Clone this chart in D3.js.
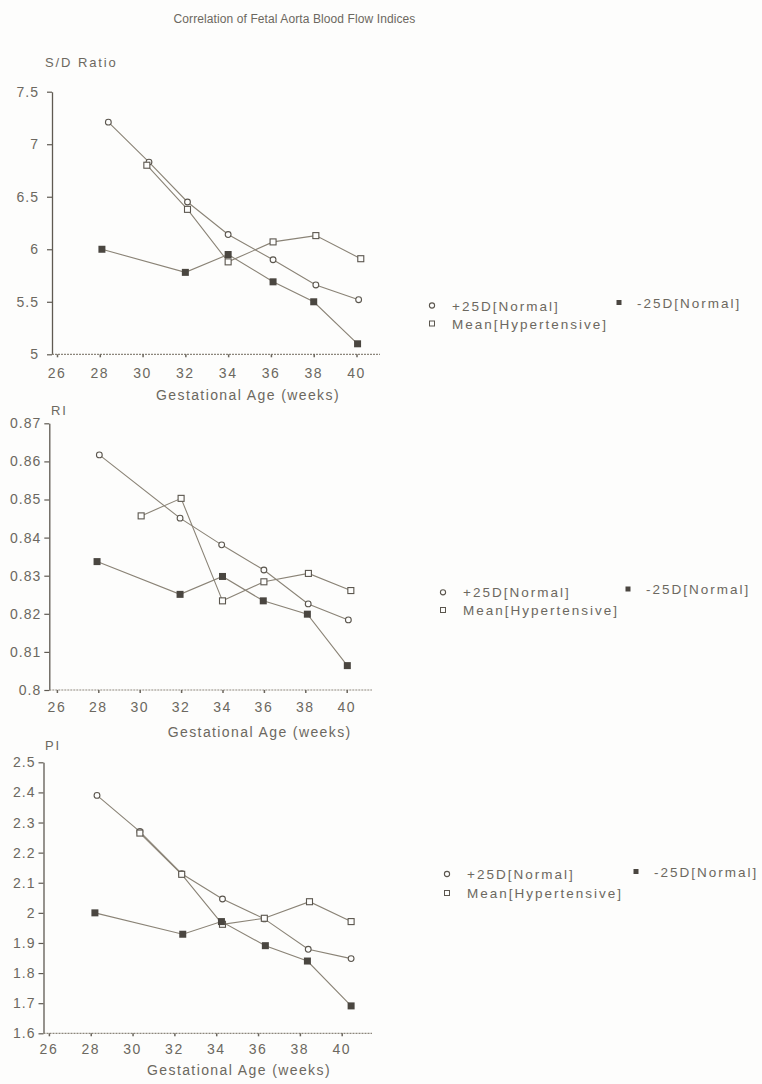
<!DOCTYPE html>
<html>
<head>
<meta charset="utf-8">
<script src="https://cdn.jsdelivr.net/npm/d3@7"></script>
<style>
  html, body { margin: 0; padding: 0; background: #fdfdfc; }
  svg { display: block; }
  text { font-family: "Liberation Sans", Arial, sans-serif; fill: #6c6860; }
</style>
</head>
<body>
<svg id="chart" width="762" height="1084"></svg>
<script>
// ---------------- data ----------------
const chartTitle = "Correlation of Fetal Aorta Blood Flow Indices";
const xAxisTitle = "Gestational Age (weeks)";
const seriesNames = ["+25D[Normal]", "-25D[Normal]", "Mean[Hypertensive]"];
const xTickValues = [26, 28, 30, 32, 34, 36, 38, 40];

// S/D Ratio panel
const sdTicks = [5, 5.5, 6, 6.5, 7, 7.5];
const sdPlusWeeks = [28.4, 30.3, 32.1, 34.0, 36.1, 38.1, 40.1];
const sdPlus = [7.21, 6.83, 6.45, 6.14, 5.90, 5.66, 5.52];
const sdMinusWeeks = [28.1, 32.0, 34.0, 36.1, 38.0, 40.05];
const sdMinus = [6.00, 5.78, 5.95, 5.69, 5.50, 5.10];
const sdMeanWeeks = [30.2, 32.1, 34.0, 36.1, 38.1, 40.2];
const sdMean = [6.80, 6.38, 5.88, 6.07, 6.13, 5.91];

// RI panel
const riTicks = [0.8, 0.81, 0.82, 0.83, 0.84, 0.85, 0.86, 0.87];
const riPlusWeeks = [28.05, 31.95, 33.96, 36.0, 38.14, 40.08];
const riPlus = [0.8617, 0.8451, 0.8381, 0.8315, 0.8226, 0.8184];
const riMinusWeeks = [27.94, 31.95, 34.0, 35.97, 38.1, 40.03];
const riMinus = [0.8337, 0.8251, 0.8298, 0.8234, 0.8199, 0.8064];
const riMeanWeeks = [30.07, 32.0, 34.0, 36.0, 38.15, 40.2];
const riMean = [0.8457, 0.8503, 0.8234, 0.8284, 0.8306, 0.8261];

// PI panel
const piTicks = [1.6, 1.7, 1.8, 1.9, 2.0, 2.1, 2.2, 2.3, 2.4, 2.5];
const piPlusWeeks = [28.3, 30.35, 32.35, 34.3, 36.3, 38.4, 40.45];
const piPlus = [2.39, 2.27, 2.13, 2.046, 1.98, 1.879, 1.848];
const piMinusWeeks = [28.2, 32.4, 34.25, 36.35, 38.36, 40.45];
const piMinus = [2.00, 1.929, 1.971, 1.891, 1.840, 1.691];
const piMeanWeeks = [30.35, 32.35, 34.3, 36.3, 38.46, 40.45];
const piMean = [2.265, 2.128, 1.962, 1.982, 2.037, 1.971];

// ---------------- layout ----------------
const panels = [
  { label: "S/D Ratio", labelX: 45, labelY: 67,
    ticks: sdTicks, yDomain: [5, 7.5], yRange: [354.3, 91.7],
    xRange: [57, 356.5], axisX: 52, axisRight: 380, yPad: 8,
    tickY: 377.5, titleX: 248, titleY: 400,
    plus: [sdPlusWeeks, sdPlus], minus: [sdMinusWeeks, sdMinus], mean: [sdMeanWeeks, sdMean],
    legend: { x: 432, y1: 305.5, x2: 619, y2: 302.5, y3: 323.5 } },
  { label: "RI", labelX: 51, labelY: 415,
    ticks: riTicks, yDomain: [0.8, 0.87], yRange: [690, 423.3],
    xRange: [56.9, 346.7], axisX: 49.3, axisRight: 372, yPad: 3,
    tickY: 712, titleX: 259.7, titleY: 737,
    plus: [riPlusWeeks, riPlus], minus: [riMinusWeeks, riMinus], mean: [riMeanWeeks, riMean],
    legend: { x: 443, y1: 592.3, x2: 628, y2: 589, y3: 610 } },
  { label: "PI", labelX: 45, labelY: 749.5,
    ticks: piTicks, yDomain: [1.6, 2.5], yRange: [1033.3, 762.3],
    xRange: [48.9, 341.7], axisX: 43.5, axisRight: 372, yPad: 3,
    tickY: 1054, titleX: 239, titleY: 1075,
    plus: [piPlusWeeks, piPlus], minus: [piMinusWeeks, piMinus], mean: [piMeanWeeks, piMean],
    legend: { x: 447, y1: 874, x2: 636, y2: 871.5, y3: 893 } }
];

const lineColor = "#8a8376";
const markColor = "#5b564e";
const fillColor = "#4a4640";

const svg = d3.select("#chart");

svg.append("text")
  .attr("x", 294.5).attr("y", 22.5)
  .attr("text-anchor", "middle")
  .style("font-size", "12px")
  .style("letter-spacing", "0.1px")
  .text(chartTitle);

function zip(a, b) { return a.map((d, i) => ({ x: d, y: b[i] })); }

panels.forEach(p => {
  const g = svg.append("g");
  const x = d3.scaleLinear().domain([26, 40]).range(p.xRange);
  const y = d3.scaleLinear().domain(p.yDomain).range(p.yRange);
  const y0 = p.yRange[0];

  // y axis
  const yAxis = d3.axisLeft(y).tickValues(p.ticks)
    .tickFormat(d => String(+d.toFixed(2)))
    .tickSize(5).tickSizeOuter(0).tickPadding(p.yPad);
  const gy = g.append("g").attr("transform", `translate(${p.axisX},0)`).call(yAxis);
  gy.select(".domain").attr("stroke", "#5f5a52").attr("stroke-width", 1.3);
  gy.selectAll(".tick line").attr("stroke", "#5f5a52").attr("stroke-width", 1.2);
  gy.selectAll(".tick text")
    .style("font-size", "14px").style("letter-spacing", "1px")
    .style("font-family", "'Liberation Sans', Arial, sans-serif")
    .attr("fill", "#6c6860");

  // x axis (dotted baseline)
  g.append("line")
    .attr("x1", p.axisX).attr("x2", p.axisRight)
    .attr("y1", y0).attr("y2", y0)
    .attr("stroke", "#8d877c").attr("stroke-width", 1.2)
    .attr("stroke-dasharray", "2,1");
  const xAxis = d3.axisBottom(x).tickValues(xTickValues).tickSize(3).tickSizeOuter(0).tickFormat("");
  const gx = g.append("g").attr("transform", `translate(0,${y0})`).call(xAxis);
  gx.select(".domain").remove();
  gx.selectAll(".tick line").attr("stroke", "#6a655c").attr("stroke-width", 1.5);

  g.selectAll("text.xt").data(xTickValues).join("text")
    .attr("class", "xt")
    .attr("x", d => x(d)).attr("y", p.tickY)
    .attr("text-anchor", "middle")
    .style("font-size", "14px").style("letter-spacing", "1.5px")
    .text(d => d);

  g.append("text")
    .attr("x", p.titleX).attr("y", p.titleY)
    .attr("text-anchor", "middle")
    .style("font-size", "14px").style("letter-spacing", "1.4px")
    .text(xAxisTitle);

  g.append("text")
    .attr("x", p.labelX).attr("y", p.labelY)
    .style("font-size", "13px").style("letter-spacing", "1.9px")
    .text(p.label);

  const line = d3.line().x(d => x(d.x)).y(d => y(d.y));
  const plus = zip(p.plus[0], p.plus[1]);
  const minus = zip(p.minus[0], p.minus[1]);
  const mean = zip(p.mean[0], p.mean[1]);

  [plus, minus, mean].forEach(s => {
    g.append("path").datum(s)
      .attr("d", line)
      .attr("fill", "none")
      .attr("stroke", lineColor)
      .attr("stroke-width", 1.1);
  });

  // markers
  g.selectAll("circle.plus").data(plus).join("circle")
    .attr("class", "plus")
    .attr("cx", d => x(d.x)).attr("cy", d => y(d.y)).attr("r", 2.9)
    .attr("fill", "#fdfdfc").attr("stroke", markColor).attr("stroke-width", 1.1);
  g.selectAll("rect.mean").data(mean).join("rect")
    .attr("class", "mean")
    .attr("x", d => x(d.x) - 3).attr("y", d => y(d.y) - 3)
    .attr("width", 6).attr("height", 6)
    .attr("fill", "#fdfdfc").attr("stroke", markColor).attr("stroke-width", 1.1);
  g.selectAll("rect.minus").data(minus).join("rect")
    .attr("class", "minus")
    .attr("x", d => x(d.x) - 3.5).attr("y", d => y(d.y) - 3.5)
    .attr("width", 7).attr("height", 7)
    .attr("fill", fillColor);

  // legend
  const L = p.legend;
  const lg = svg.append("g");
  lg.append("circle").attr("cx", L.x).attr("cy", L.y1).attr("r", 2.6)
    .attr("fill", "#fdfdfc").attr("stroke", markColor).attr("stroke-width", 1.1);
  lg.append("text").attr("x", L.x + 20).attr("y", L.y1 + 5)
    .style("font-size", "13.5px").style("letter-spacing", "2px").text(seriesNames[0]);
  lg.append("rect").attr("x", L.x2 - 2.5).attr("y", L.y2 - 2.5).attr("width", 5).attr("height", 5)
    .attr("fill", fillColor);
  lg.append("text").attr("x", L.x2 + 18).attr("y", L.y2 + 5)
    .style("font-size", "13.5px").style("letter-spacing", "2px").text(seriesNames[1]);
  lg.append("rect").attr("x", L.x - 2.5).attr("y", L.y3 - 2.5).attr("width", 5).attr("height", 5)
    .attr("fill", "#fdfdfc").attr("stroke", markColor).attr("stroke-width", 1);
  lg.append("text").attr("x", L.x + 20).attr("y", L.y3 + 5)
    .style("font-size", "13.5px").style("letter-spacing", "2px").text(seriesNames[2]);
});
</script>
</body>
</html>
